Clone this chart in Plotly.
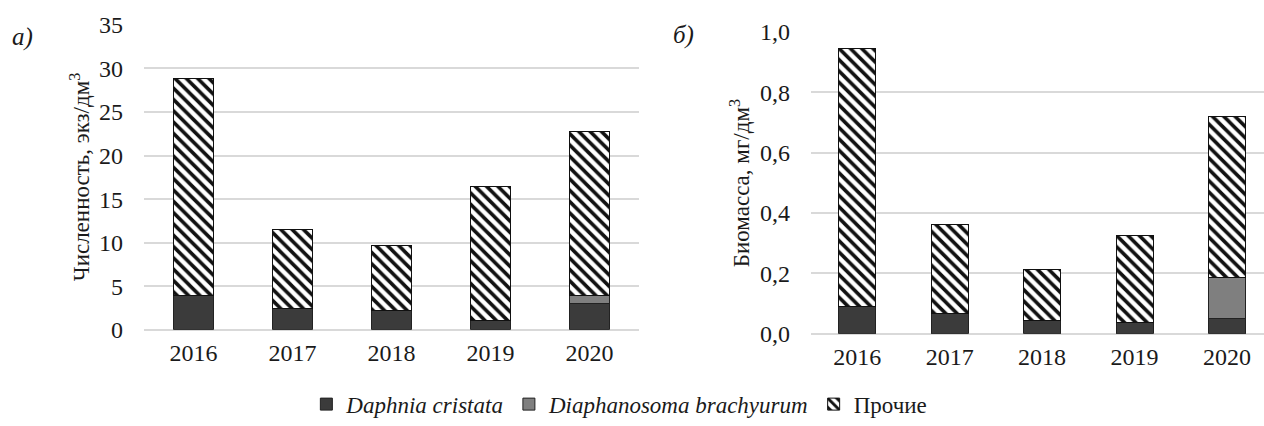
import plotly.graph_objects as go

years = ["2016", "2017", "2018", "2019", "2020"]

# а) численность, экз/дм3
abund_daphnia = [3.9, 2.5, 2.2, 1.1, 3.0]
abund_diaphanosoma = [0.0, 0.0, 0.0, 0.0, 1.0]
abund_total = [28.8, 11.5, 9.7, 16.5, 22.7]
abund_other = [t - a - b for t, a, b in zip(abund_total, abund_daphnia, abund_diaphanosoma)]

# б) биомасса, мг/дм3
biom_daphnia = [0.092, 0.066, 0.043, 0.038, 0.052]
biom_diaphanosoma = [0.0, 0.0, 0.0, 0.0, 0.135]
biom_total = [0.944, 0.362, 0.213, 0.327, 0.718]
biom_other = [t - a - b for t, a, b in zip(biom_total, biom_daphnia, biom_diaphanosoma)]

series_names = ["<i>Daphnia cristata</i>", "<i>Diaphanosoma brachyurum</i>", "Прочие"]

FONT = "Liberation Serif"
INK = "#1a1a1a"
GRID = "#d9d9d9"

fig = go.Figure()


def add_panel(daph, diaph, other, xa, ya, show):
    fig.add_trace(go.Bar(
        x=years, y=daph, name=series_names[0], xaxis=xa, yaxis=ya,
        marker=dict(color="#3b3b3b", line=dict(color="#222222", width=1)),
        legendgroup="d", showlegend=show,
    ))
    fig.add_trace(go.Bar(
        x=years, y=diaph, name=series_names[1], xaxis=xa, yaxis=ya,
        marker=dict(color="#7f7f7f", line=dict(color="#222222", width=1)),
        legendgroup="b", showlegend=show,
    ))
    fig.add_trace(go.Bar(
        x=years, y=other, name=series_names[2], xaxis=xa, yaxis=ya,
        marker=dict(
            color="white",
            line=dict(color="#111111", width=1),
            pattern=dict(shape="\\", fgcolor="#111111", bgcolor="white",
                         size=8, solidity=0.45, fillmode="replace"),
        ),
        legendgroup="o", showlegend=show,
    ))


add_panel(abund_daphnia, abund_diaphanosoma, abund_other, "x", "y", True)
add_panel(biom_daphnia, biom_diaphanosoma, biom_other, "x2", "y2", False)

W, H = 1264, 426


def tfont(size):
    return dict(family=FONT, size=size, color=INK)


fig.update_layout(
    width=W, height=H,
    margin=dict(l=0, r=0, t=0, b=0),
    paper_bgcolor="white", plot_bgcolor="white",
    barmode="stack", bargap=0.6,
    separators=", ",
    xaxis=dict(domain=[144 / W, 639 / W], anchor="y", range=[-0.5, 4.5],
               showline=False, ticks="", tickfont=tfont(24), automargin=False,
               showgrid=False, zeroline=False, ticklabelstandoff=6),
    yaxis=dict(domain=[(H - 333) / H, (H - 25) / H], anchor="x", range=[0, 35],
               showline=False, ticks="", tickfont=tfont(24), automargin=False,
               dtick=5, showgrid=True, gridcolor=GRID, gridwidth=1.5,
               zeroline=True, zerolinecolor=GRID, zerolinewidth=1.5,
               ticklabelstandoff=20),
    xaxis2=dict(domain=[811 / W, 1.0], anchor="y2", range=[-0.5, 4.4],
                showline=False, ticks="", tickfont=tfont(24), automargin=False,
                showgrid=False, zeroline=False, ticklabelstandoff=6),
    yaxis2=dict(domain=[(H - 337) / H, (H - 32) / H], anchor="x2", range=[0, 1.0],
                showline=False, ticks="", tickfont=tfont(24), automargin=False,
                dtick=0.2, tickformat=".1f", showgrid=True, gridcolor=GRID, gridwidth=1.5,
                zeroline=True, zerolinecolor=GRID, zerolinewidth=1.5,
                ticklabelstandoff=20),
    legend=dict(
        orientation="h", x=0.49, xanchor="center", y=(H - 408) / H, yanchor="middle",
        font=tfont(23), bgcolor="rgba(0,0,0,0)",
        traceorder="normal", itemwidth=30,
    ),
    showlegend=True,
)

annotations = [
    dict(text="Численность, экз/дм<sup>3</sup>", x=80 / W, y=(H - 179) / H,
         textangle=-90, font=tfont(23)),
    dict(text="Биомасса, мг/дм<sup>3</sup>", x=740 / W, y=(H - 185) / H,
         textangle=-90, font=tfont(23)),
    dict(text="<i>а)</i>", x=22 / W, y=(H - 37) / H, font=tfont(25)),
    dict(text="<i>б)</i>", x=683 / W, y=(H - 35) / H, font=tfont(25)),
]
for a in annotations:
    a.update(xref="paper", yref="paper", showarrow=False, xanchor="center", yanchor="middle")
fig.update_layout(annotations=annotations)

fig.write_html("out.html")
